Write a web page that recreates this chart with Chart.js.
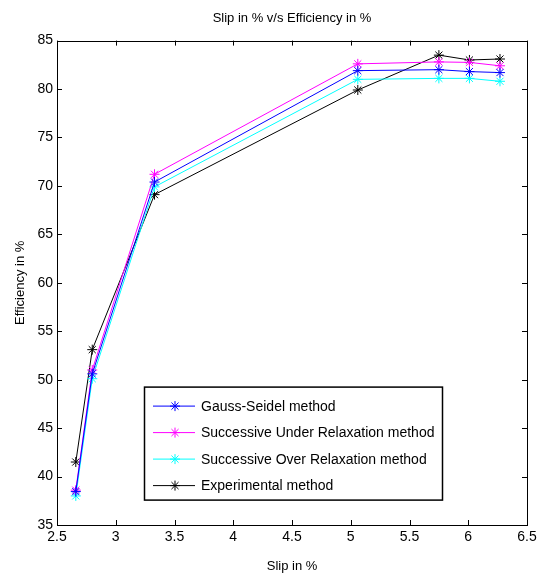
<!DOCTYPE html>
<html>
<head>
<meta charset="utf-8">
<script src="https://cdn.jsdelivr.net/npm/chart.js@4.4.1/dist/chart.umd.min.js"></script>
<style>
  html, body { margin: 0; padding: 0; background: #ffffff; }
  #c { display: block; }
</style>
</head>
<body>
<canvas id="c" width="544" height="579"></canvas>
<script>
// Slip (%) at each operating point
const slip = [2.66, 2.80, 3.33, 5.06, 5.75, 6.01, 6.27];

// Efficiency (%) from each solution method
const gaussSeidel  = [38.45, 50.6, 70.4, 81.9, 82.0, 81.8, 81.7];
const underRelax   = [38.6, 51.0, 71.2, 82.6, 82.8, 82.75, 82.4];
const overRelax    = [38.0, 50.1, 69.9, 81.0, 81.1, 81.1, 80.8];
const experimental = [41.5, 53.1, 69.1, 79.9, 83.5, 83.0, 83.1];

const seriesNames = [
  'Gauss-Seidel method',
  'Successive Under Relaxation method',
  'Successive Over Relaxation method',
  'Experimental method'
];
const seriesColors = ['#0000ff', '#ff00ff', '#00ffff', '#000000'];
const seriesValues = [gaussSeidel, underRelax, overRelax, experimental];

const xTicks = [2.5, 3, 3.5, 4, 4.5, 5, 5.5, 6, 6.5];
const yTicks = [35, 40, 45, 50, 55, 60, 65, 70, 75, 80, 85];

const FONT = "'Liberation Sans', Arial, Helvetica, sans-serif";

const datasets = seriesValues.map((vals, i) => ({
  label: seriesNames[i],
  data: slip.map((s, k) => ({ x: s, y: vals[k] })),
  showLine: true,
  borderColor: seriesColors[i],
  backgroundColor: seriesColors[i],
  borderWidth: 1,
  pointStyle: 'star',
  pointRadius: 5,
  pointBorderWidth: 1,
  pointBorderColor: seriesColors[i],
  tension: 0
}));

// Axes box with inward tick marks on all four sides, plus an in-plot legend
const frame = {
  id: 'frame',
  afterDraw(chart) {
    const { ctx, chartArea: a, scales: { x, y } } = chart;
    ctx.save();
    ctx.strokeStyle = '#000';
    ctx.lineWidth = 1;
    ctx.strokeRect(Math.round(a.left) + 0.5, Math.round(a.top) + 0.5,
                   Math.round(a.right - a.left), Math.round(a.bottom - a.top));
    const tl = 5;
    ctx.beginPath();
    xTicks.forEach(v => {
      const px = Math.round(x.getPixelForValue(v)) + 0.5;
      ctx.moveTo(px, a.bottom); ctx.lineTo(px, a.bottom - tl);
      ctx.moveTo(px, a.top); ctx.lineTo(px, a.top + tl);
    });
    yTicks.forEach(v => {
      const py = Math.round(y.getPixelForValue(v)) + 0.5;
      ctx.moveTo(a.left, py); ctx.lineTo(a.left + tl, py);
      ctx.moveTo(a.right, py); ctx.lineTo(a.right - tl, py);
    });
    ctx.stroke();

    // legend
    const bx = a.left + 87, by = a.top + 346, bw = 298, bh = 113;
    ctx.fillStyle = '#fff';
    ctx.fillRect(bx, by, bw, bh);
    ctx.lineWidth = 1.5;
    ctx.strokeRect(bx + 0.5, by + 0.5, bw, bh);
    ctx.font = '14px ' + FONT;
    ctx.textBaseline = 'middle';
    ctx.textAlign = 'left';
    chart.data.datasets.forEach((ds, i) => {
      const cy = by + 19.5 + i * 26.5;
      ctx.strokeStyle = ds.borderColor;
      ctx.lineWidth = 1;
      ctx.beginPath();
      ctx.moveTo(bx + 9, cy); ctx.lineTo(bx + 51, cy);
      ctx.stroke();
      Chart.helpers.drawPoint(ctx, { pointStyle: 'star', radius: 5, borderWidth: 1 }, bx + 31, cy);
      ctx.fillStyle = '#000';
      ctx.fillText(ds.label, bx + 57, cy + 1);
    });
    ctx.restore();
  }
};

new Chart(document.getElementById('c'), {
  type: 'scatter',
  data: { datasets },
  options: {
    responsive: false,
    animation: false,
    devicePixelRatio: 1,
    layout: { padding: { left: 0, right: 17, top: 0, bottom: 0 } },
    plugins: {
      legend: { display: false },
      tooltip: { enabled: false },
      title: {
        display: true,
        fullSize: false,
        text: 'Slip in % v/s Efficiency in %',
        color: '#000',
        font: { family: FONT, size: 13, weight: 'normal', lineHeight: 1.2 },
        padding: { top: 11, bottom: 14 }
      }
    },
    scales: {
      x: {
        type: 'linear',
        min: 2.5, max: 6.5,
        afterBuildTicks: s => { s.ticks = xTicks.map(v => ({ value: v })); },
        afterFit: s => { s.height = 54; },
        grid: { display: false, drawTicks: false },
        border: { display: false },
        ticks: { color: '#000', padding: 4, maxRotation: 0, autoSkip: false,
                 callback: v => String(v),
                 font: { family: FONT, size: 14 } },
        title: { display: true, text: 'Slip in %', color: '#000',
                 font: { family: FONT, size: 13 }, padding: { top: 0, bottom: 5 } }
      },
      y: {
        type: 'linear',
        min: 35, max: 85,
        afterBuildTicks: s => { s.ticks = yTicks.map(v => ({ value: v })); },
        afterFit: s => { s.width = 57; },
        grid: { display: false, drawTicks: false },
        border: { display: false },
        ticks: { color: '#000', padding: 4, autoSkip: false,
                 callback: v => String(v),
                 font: { family: FONT, size: 14 } },
        title: { display: true, text: 'Efficiency in %', color: '#000',
                 font: { family: FONT, size: 13 }, padding: { top: 13, bottom: 0 } }
      }
    }
  },
  plugins: [frame]
});
</script>
</body>
</html>
